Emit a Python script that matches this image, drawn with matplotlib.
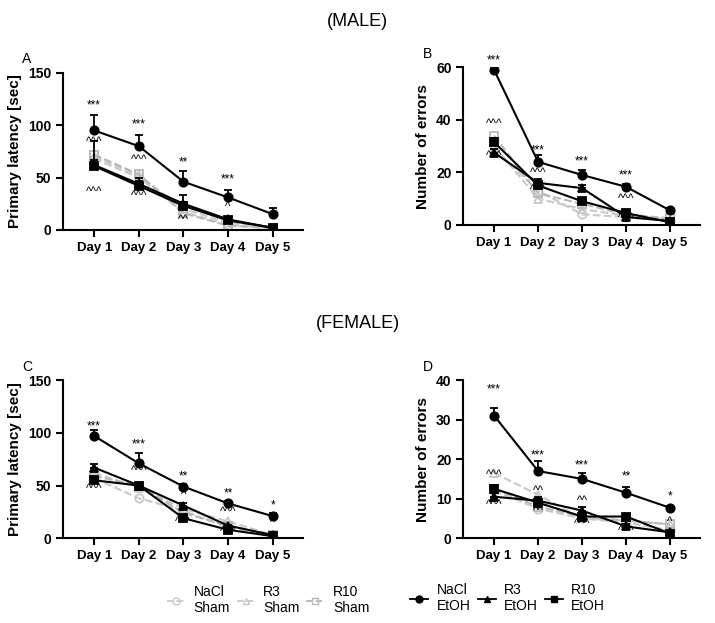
import numpy as np
import matplotlib.pyplot as plt
from matplotlib.lines import Line2D

plt.rcParams['font.family'] = ['Liberation Sans', 'DejaVu Sans']

days = ["Day 1", "Day 2", "Day 3", "Day 4", "Day 5"]
groups = ["NaCl\nSham", "R3\nSham", "R10\nSham", "NaCl\nEtOH", "R3\nEtOH", "R10\nEtOH"]

# male primary latency
lat_m = {
    "NaCl Sham": [68, 50, 17, 5, 1],
    "R3 Sham": [70, 52, 20, 7, 2],
    "R10 Sham": [72, 53, 16, 4, 2],
    "NaCl EtOH": [95, 80, 46, 31, 15],
    "R3 EtOH": [62, 44, 25, 10, 2],
    "R10 EtOH": [61, 42, 23, 9, 2],
}
lat_m_err = {"NaCl EtOH": [15, 11, 10, 7, 6], "R3 EtOH": [5, 3, 8, 2, 1], "R10 EtOH": [24, 8, 4, 2, 1]}

# male number of errors
err_m = {
    "NaCl Sham": [29, 13, 4, 3, 1.5],
    "R3 Sham": [30, 10, 6, 3.5, 2],
    "R10 Sham": [34, 12, 8, 4, 2.5],
    "NaCl EtOH": [59, 24, 19, 14.5, 5.5],
    "R3 EtOH": [27.5, 16, 14, 3, 1.5],
    "R10 EtOH": [31.5, 15, 9, 4.5, 1],
}
err_m_err = {"NaCl EtOH": [0.8, 2.5, 2, 1, 0.8], "R3 EtOH": [1.5, 1.5, 1, 0.5, 0.3], "R10 EtOH": [1.5, 1.5, 1, 0.5, 0.3]}

# female primary latency
lat_f = {
    "NaCl Sham": [57, 38, 26, 10, 2],
    "R3 Sham": [62, 48, 28, 16, 3],
    "R10 Sham": [59, 50, 24, 12, 3],
    "NaCl EtOH": [97, 71, 49, 33, 21],
    "R3 EtOH": [67, 50, 31, 12, 3],
    "R10 EtOH": [55, 50, 19, 8, 2],
}
lat_f_err = {"NaCl EtOH": [6, 10, 2, 2, 3], "R3 EtOH": [3, 2, 2, 1, 1], "R10 EtOH": [2, 2, 2, 1, 1]}

# female number of errors
err_f = {
    "NaCl Sham": [12, 7.5, 5, 4, 2],
    "R3 Sham": [16.5, 11, 5, 4.5, 3.5],
    "R10 Sham": [12.5, 8, 5.5, 4.5, 3.5],
    "NaCl EtOH": [31, 17, 15, 11.5, 7.7],
    "R3 EtOH": [10.5, 9.5, 7, 3, 1.5],
    "R10 EtOH": [12.5, 9, 5.5, 5.5, 1.2],
}
err_f_err = {"NaCl EtOH": [2, 2.5, 1.5, 1.5, 0.5], "R3 EtOH": [1, 1, 0.8, 0.5, 0.3], "R10 EtOH": [1, 1, 0.5, 0.5, 0.3]}

# significance marks: (day, y, text)
marks_a = [(1, 113, "***"), (1, 78, "^^^"), (1, 30, "^^^"), (2, 95, "***"), (2, 61, "^^^"), (2, 27, "^^^"),
           (3, 59, "**"), (3, 35, "^"), (3, 4, "^^"), (4, 42, "***"), (4, 16, "^"), (4, 0, "^")]
marks_b = [(1, 60.5, "***"), (1, 36, "^^^"), (1, 24, "^^^"), (2, 26, "***"), (2, 17.5, "^^^"), (2, 11, "^^^"),
           (3, 22, "***"), (4, 16.5, "***"), (4, 7.5, "^^^"), (4, 0.5, "^^^")]
marks_c = [(1, 100, "***"), (1, 41, "^^^"), (2, 83, "***"), (2, 58, "^^^"), (3, 53, "**"), (3, 35, "^"),
           (3, 10, "^^^"), (4, 37, "**"), (4, 19, "^^^"), (4, 0, "^^^"), (5, 25, "*"), (5, 9, "^")]
marks_d = [(1, 36, "***"), (1, 14.5, "^^^"), (1, 7, "^^^"), (2, 19.5, "***"), (2, 10.5, "^^"), (2, 5.5, "^^"),
           (3, 17, "***"), (3, 8, "^^"), (3, 2, "^^^"), (4, 14, "**"), (4, 0.2, "^^^"), (5, 9, "*"), (5, 2.5, "^")]

styles = {
    "NaCl Sham": dict(color="#c8c8c8", ls="--", marker="o", mfc="none"),
    "R3 Sham": dict(color="#c8c8c8", ls="--", marker="^", mfc="none"),
    "R10 Sham": dict(color="#b8b8b8", ls="--", marker="s", mfc="none"),
    "NaCl EtOH": dict(color="black", ls="-", marker="o", mfc="black"),
    "R3 EtOH": dict(color="black", ls="-", marker="^", mfc="black"),
    "R10 EtOH": dict(color="black", ls="-", marker="s", mfc="black"),
}

x = np.arange(1, 6)


def panel(ax, data, errs, marks, ymax, ystep, ylabel, letter):
    for name, vals in data.items():
        st = styles[name]
        if name in errs:
            ax.errorbar(x, vals, yerr=[np.zeros(5), errs[name]], color=st["color"], ls="none",
                        capsize=3, elinewidth=1.3, capthick=1.3, zorder=2)
        ax.plot(x, vals, color=st["color"], ls=st["ls"], marker=st["marker"], mfc=st["mfc"],
                mec=st["color"], ms=6, lw=1.5, mew=1.3, zorder=3 if "EtOH" in name else 2)
    for d, y, t in marks:
        ax.text(d, y, t, ha="center", va="bottom", fontsize=8.5)
    ax.set_xlim(0.3, 5.68)
    ax.set_ylim(0, ymax)
    ax.set_yticks(np.arange(0, ymax + 1, ystep))
    ax.set_xticks(x)
    ax.set_xticklabels(days, fontweight="bold", fontsize=9.5)
    for lb in ax.get_yticklabels():
        lb.set_fontweight("bold")
        lb.set_fontsize(10)
    ax.set_ylabel(ylabel, fontweight="bold", fontsize=11)
    ax.spines["top"].set_visible(False)
    ax.spines["right"].set_visible(False)
    ax.spines["left"].set_linewidth(1.5)
    ax.spines["bottom"].set_linewidth(1.5)
    ax.tick_params(width=1.5, length=5)
    ax.text(-0.17, 1.06, letter, transform=ax.transAxes, fontsize=10)


fig = plt.figure(figsize=(7.15, 6.23), dpi=100)
axA = fig.add_axes([0.088, 0.631, 0.336, 0.252])
axB = fig.add_axes([0.648, 0.639, 0.331, 0.253])
axC = fig.add_axes([0.088, 0.136, 0.336, 0.254])
axD = fig.add_axes([0.648, 0.136, 0.331, 0.254])

panel(axA, lat_m, lat_m_err, marks_a, 150, 50, "Primary latency [sec]", "A")
panel(axB, err_m, err_m_err, marks_b, 60, 20, "Number of errors", "B")
panel(axC, lat_f, lat_f_err, marks_c, 150, 50, "Primary latency [sec]", "C")
panel(axD, err_f, err_f_err, marks_d, 40, 10, "Number of errors", "D")

fig.text(0.5, 0.965, "(MALE)", ha="center", va="center", fontsize=13)
fig.text(0.5, 0.48, "(FEMALE)", ha="center", va="center", fontsize=13)

names = list(styles.keys())
handles = []
for n in names:
    st = styles[n]
    handles.append(Line2D([], [], color=st["color"], ls=st["ls"], marker=st["marker"], mfc=st["mfc"],
                          mec=st["color"], ms=5, lw=1.3))
fig.legend(handles[:3], groups[:3], loc="center", bbox_to_anchor=(0.375, 0.037), ncol=3, frameon=False,
           fontsize=10, handlelength=1.3, handletextpad=0.6, columnspacing=0.5)
fig.legend(handles[3:], groups[3:], loc="center", bbox_to_anchor=(0.71, 0.04), ncol=3, frameon=False,
           fontsize=10, handlelength=1.3, handletextpad=0.6, columnspacing=0.5)

fig.savefig("out.png", dpi=100)
